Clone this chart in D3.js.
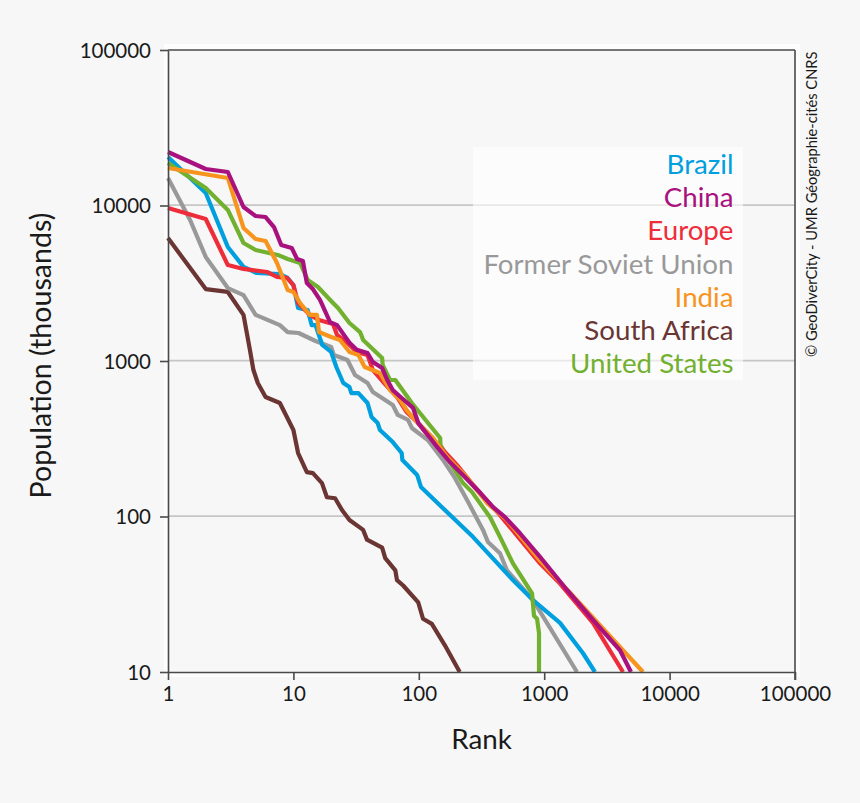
<!DOCTYPE html>
<html>
<head>
<meta charset="utf-8">
<script src="https://cdnjs.cloudflare.com/ajax/libs/d3/7.8.5/d3.min.js"></script>
<style>
  html, body { margin: 0; padding: 0; background: #f7f7f7; }
  svg { display: block; }
  text { font-family: Lato, sans-serif; }
</style>
</head>
<body>
<svg id="chart" width="860" height="803"></svg>
<script>
// values, rank then population (thousands)
const brazilRank = [1,2,3,4,5.1,7.8,9,10,10.9,13,14,15,17,20,22,25,28,29,33,39,42,47,49,62,73,74,97,104,156,270,563,814,1336,2040,2540];
const brazilPop = [20510,12030,5410,4030,3680,3620,3420,3080,2190,2130,1700,1700,1268,1143,915,722,680,622,622,537,437,399,360,301,256,231,185,155,113,74,39,29,20.7,13.2,10];

const chinaRank = [1,2,3,4,5,6,7,8,9.7,10.7,11.9,12.8,14.3,16.3,19.6,22.3,28,32,39,43,51,56,62,73,90,99,118,140,177,225,308,391,487,641,926,1520,2450,4020,4920];
const chinaPop = [22080,17170,16420,9780,8560,8430,7270,5570,5330,4530,4400,3170,2900,2470,1780,1700,1310,1180,1125,986,900,755,650,578,499,399,334,280,224,185,142,115,99,78,55,33.7,21.6,13.8,10];

const europeRank = [1,2,3,4,6.2,7.4,8.9,10,10.9,13.5,16,20.7,22.3,26.8,32,39,43,52,67,80,97,118,156,202,270,444,926,1336,2450,4250];
const europePop = [9640,8190,4140,3910,3735,3470,3420,3080,2360,1980,1835,1730,1470,1310,1143,1094,875,733,587,470,405,334,268,214,160,102,50,37,20.7,10];

const sovietRank = [1,1.5,2,3,4,5,7.8,9,11,15,20,21,27,31,39,43,62,68,82,88,118,156,194,242,325,356,444,505,814,1826];
const sovietPop = [15030,8070,4670,2945,2655,1980,1700,1535,1514,1345,1230,1094,1014,813,722,632,521,450,418,371,310,231,177,128,82,68.6,58,45,29,10];

const indiaRank = [1,3,4,5,6,7.4,9,10,11.3,13.5,15.4,16,20,23.5,28,33,37,49,59,71,80,97,130,168,242,350,505,926,1826,3350,6135];
const indiaPop = [17420,15030,7170,6090,5910,4270,2860,2780,2360,1980,1980,1535,1426,1365,1143,1094,915,838,650,561,484,405,320,241,179,122,95,52,29,17,10];

const safricaRank = [1,2,3,4,4.5,4.8,5.2,6,7.8,10,10.9,12.8,14.3,16.9,18.5,21.5,24.4,28,36,38.6,51,54,65,67,75,99,108,127,161,212];
const safricaPop = [6180,2900,2780,1980,1180,875,722,587,537,360,256,193,190,164,133,131,110,95,82,71,63,54,45,39,36,28,22,20.4,14.9,10];

const usRank = [1,2,3,4,5,7.5,9,11.3,13,15.7,20.7,22.7,28,34,36,51,51.5,59,65,88,148,149,177,225,265,370,444,563,800,829,877,909,909];
const usPop = [18750,12970,9360,5740,5170,4810,4530,4270,3320,2990,2360,2190,1755,1535,1365,1045,942,755,755,537,320,288,224,164,144,99,74,50,32,23,22,17.8,10];

const legendNames = ["Brazil","China","Europe","Former Soviet Union","India","South Africa","United States"];
const legendColors = ["#00a0df","#a8117e","#ee2d3a","#999999","#f7941e","#6a3533","#72b02f"];
const tickValues = [1,10,100,1000,10000,100000];

const svg = d3.select("#chart");
const left = 168, right = 795, top_ = 50, bottom = 672;

const x = d3.scaleLog().domain([1,100000]).range([left,right]);
const y = d3.scaleLog().domain([10,100000]).range([bottom,top_]);

// pale halo round the plot
svg.append("rect").attr("x",left-4).attr("y",top_-6).attr("width",right-left+9).attr("height",bottom-top_+11).attr("fill","#fdfdfd");
svg.append("rect").attr("x",left).attr("y",top_).attr("width",right-left).attr("height",bottom-top_).attr("fill","#f7f7f7");

// grid
svg.selectAll(".grid").data([100,1000,10000]).join("line")
  .attr("x1",left).attr("x2",right)
  .attr("y1",d=>y(d)-0.4).attr("y2",d=>y(d)-0.4)
  .attr("stroke","#c6c6c6").attr("stroke-width",1.6);

// axes
const xAxis = d3.axisBottom(x).tickValues(tickValues).tickFormat(d3.format("d")).tickSize(8).tickSizeOuter(0);
const yAxis = d3.axisLeft(y).tickValues([10,100,1000,10000,100000]).tickFormat(d3.format("d")).tickSize(8).tickSizeOuter(0);

// series, bottom one first
const allSeries = [
  {rank:safricaRank, pop:safricaPop, c:legendColors[5]},
  {rank:sovietRank, pop:sovietPop, c:legendColors[3]},
  {rank:brazilRank, pop:brazilPop, c:legendColors[0]},
  {rank:usRank, pop:usPop, c:legendColors[6]},
  {rank:europeRank, pop:europePop, c:legendColors[2]},
  {rank:indiaRank, pop:indiaPop, c:legendColors[4]},
  {rank:chinaRank, pop:chinaPop, c:legendColors[1]}
];
const line = d3.line().x(d=>x(d[0])).y(d=>y(d[1]));
svg.append("g").selectAll("path").data(allSeries).join("path")
  .attr("d",s=>line(d3.zip(s.rank,s.pop)))
  .attr("fill","none")
  .attr("stroke",s=>s.c)
  .attr("stroke-width",4.2)
  .attr("stroke-linejoin","round");

// legend
svg.append("rect").attr("x",473).attr("y",147).attr("width",270).attr("height",233)
  .attr("fill","#fff").attr("fill-opacity",0.6);
svg.selectAll(".leg").data(legendNames).join("text")
  .attr("x",733.5)
  .attr("y",(d,i)=>174+i*33.2)
  .attr("text-anchor","end")
  .attr("font-size",27.7)
  .attr("fill",(d,i)=>legendColors[i])
  .text(d=>d);

// frame
const gx = svg.append("g").attr("transform",`translate(0,${bottom})`).call(xAxis);
const gy = svg.append("g").attr("transform",`translate(${left},0)`).call(yAxis);
[gx,gy].forEach(g=>{
  g.select(".domain").attr("stroke","#4a4a4a").attr("stroke-width",1.6);
  g.selectAll(".tick line").attr("stroke","#4a4a4a").attr("stroke-width",1.6);
  g.selectAll("text").attr("font-size",20.5).attr("fill","#1a1a1a").attr("font-family","Lato");
});
gx.selectAll("text").attr("dy",null).attr("y",29);
gy.selectAll("text").attr("x",-17).attr("dy","0.35em");
svg.append("line").attr("x1",left).attr("x2",right).attr("y1",top_).attr("y2",top_).attr("stroke","#4a4a4a").attr("stroke-width",1.6);
svg.append("line").attr("x1",right).attr("x2",right).attr("y1",top_).attr("y2",bottom+8).attr("stroke","#4a4a4a").attr("stroke-width",1.6);

// labels
svg.append("text").attr("x",481.5).attr("y",749).attr("text-anchor","middle").attr("font-size",27.8).attr("fill","#1a1a1a").text("Rank");
svg.append("text").attr("transform","translate(51,355.5) rotate(-90)").attr("text-anchor","middle").attr("font-size",28.6).attr("fill","#1a1a1a").text("Population (thousands)");
svg.append("text").attr("transform","translate(817,357) rotate(-90)").attr("font-size",14.7).attr("fill","#1a1a1a").text("© GeoDiverCity - UMR Géographie-cités CNRS");
</script>
</body>
</html>
